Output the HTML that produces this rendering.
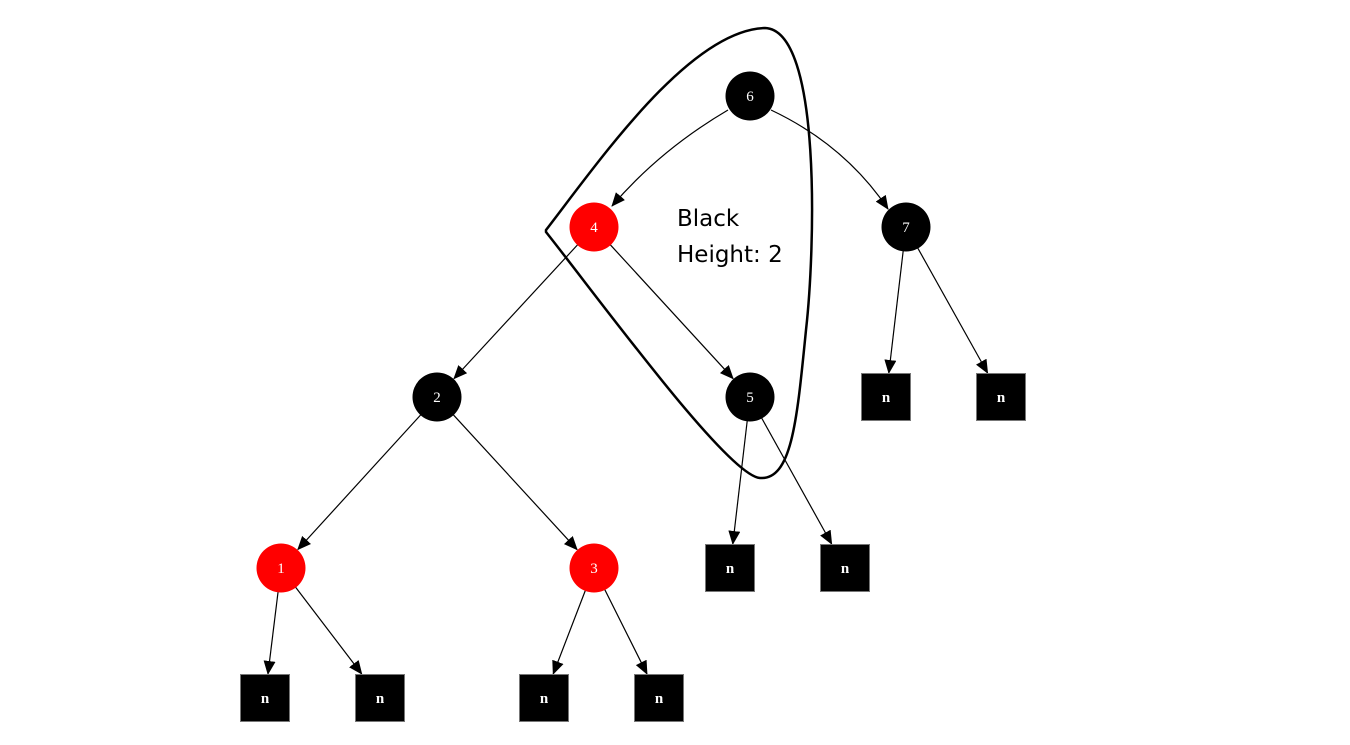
<!DOCTYPE html>
<html><head><meta charset="utf-8"><style>html,body{margin:0;background:#fff}</style></head>
<body>
<svg id="s" width="1350" height="740" xmlns="http://www.w3.org/2000/svg" font-family="Liberation Serif, serif">
<defs><marker id="b" markerWidth="14" markerHeight="12" refX="13" refY="6" orient="auto" markerUnits="userSpaceOnUse" viewBox="0 0 14 12"><path d="M0,0 L14,6 L0,12 Z" fill="#000"/></marker></defs>
<g id="e" stroke="#000" stroke-width="1.2" fill="none"></g>
<path d="M728,110 Q660,150 612,206" stroke="#000" stroke-width="1.2" fill="none" marker-end="url(#b)"/>
<path d="M771,110 Q845,145 888,209" stroke="#000" stroke-width="1.2" fill="none" marker-end="url(#b)"/>
<g id="n"></g>
<path d="M546,230 C600,160 690,30 765,28 C822,30 815,250 806,330 C797,420 792,480 760,478 C728,476 600,300 546,232 Z" stroke="#000" stroke-width="2.5" fill="none"/>
<text x="677" y="226" font-family="DejaVu Sans, sans-serif" font-size="23" fill="#000">Black</text>
<text x="677" y="262" font-family="DejaVu Sans, sans-serif" font-size="23" fill="#000">Height: 2</text>
</svg>
<script>
var NS="http://www.w3.org/2000/svg";
var C={6:[750,96,'#000'],4:[594,227,'red'],7:[906,227,'#000'],2:[437,397,'#000'],5:[750,397,'#000'],1:[281,568,'red'],3:[594,568,'red']};
var S={a:[886,397],b:[1001,397],c:[730,568],d:[845,568],e:[265,698],f:[380,698],g:[544,698],h:[659,698]};
var E=[[4,2,'c'],[4,5,'c'],[2,1,'c'],[2,3,'c'],[7,'a','s'],[7,'b','s'],[5,'c','s'],[5,'d','s'],[1,'e','s'],[1,'f','s'],[3,'g','s'],[3,'h','s']];
var eg=document.getElementById('e'),ng=document.getElementById('n');
function el(t,a){var x=document.createElementNS(NS,t);for(var k in a)x.setAttribute(k,a[k]);return x;}
E.forEach(function(q){var p=C[q[0]],t=q[2]=='c'?C[q[1]]:S[q[1]];var dx=t[0]-p[0],dy=t[1]-p[1],L=Math.hypot(dx,dy);
var x1=p[0]+dx/L*24,y1=p[1]+dy/L*24,end;
if(q[2]=='c'){end=25}else{end=Math.min(25/Math.abs(dy/L),25/Math.abs(dx/L||1e-9));end=Math.min(end,24/Math.abs(dy/L));}
var x2=t[0]-dx/L*end,y2=t[1]-dy/L*end;
eg.appendChild(el('line',{x1:x1,y1:y1,x2:x2,y2:y2,'marker-end':'url(#b)'}));});
for(var k in C){var c=C[k];ng.appendChild(el('circle',{cx:c[0],cy:c[1],r:24.5,fill:c[2]}));var t=el('text',{x:c[0],y:c[1]+5,'text-anchor':'middle','font-size':15,fill:'#fff'});t.textContent=k;ng.appendChild(t);}
for(var k in S){var s=S[k];ng.appendChild(el('rect',{x:s[0]-24.5,y:s[1]-23.5,width:49,height:47,fill:'#000',stroke:'#777','stroke-width':1}));var t=el('text',{x:s[0],y:s[1]+5,'text-anchor':'middle','font-size':15,'font-weight':'bold',fill:'#fff'});t.textContent='n';ng.appendChild(t);}
</script>
</body></html>
